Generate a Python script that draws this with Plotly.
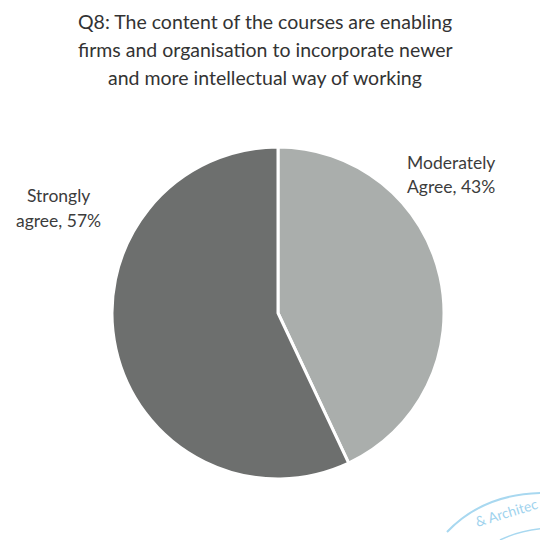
import plotly.graph_objects as go

labels = ["Moderately Agree", "Strongly agree"]
values = [43, 57]
label_lines = [["Moderately", "Agree, 43%"], ["Strongly", "agree, 57%"]]
colors = ["#aaaeac", "#6d6f6e"]

title_lines = [
    "Q8: The content of the courses are enabling",
    "firms and organisation to incorporate newer",
    "and more intellectual way of working",
]

# the page body adds an 8px offset, so the figure is sized to fit the window
OFF = 8
W, H = 548 - OFF, 540 - OFF


def px(x):
    return (x - OFF) / W


def py(y):
    return 1 - (y - OFF) / H


fig = go.Figure(go.Pie(
    labels=labels,
    values=values,
    sort=False,
    direction="clockwise",
    rotation=0,
    textinfo="none",
    hoverinfo="label+percent",
    marker=dict(colors=colors, line=dict(color="white", width=3)),
    domain=dict(x=[px(112), px(444)], y=[py(479), py(147)]),
    showlegend=False,
))

font_family = "Lato, Open Sans, sans-serif"
for i, line in enumerate(title_lines):
    fig.add_annotation(x=px(265), y=py(22 + 27.5 * i), xref="paper", yref="paper",
                       text=line, showarrow=False, align="center",
                       font=dict(family=font_family, size=19.5, color="#333333"),
                       xanchor="center", yanchor="middle")

label_pos = [(451, 162), (58, 196)]
for (lx, ly), lines in zip(label_pos, label_lines):
    for j, line in enumerate(lines):
        fig.add_annotation(x=px(lx), y=py(ly + 24 * j), xref="paper", yref="paper",
                           text=line, showarrow=False, align="center",
                           font=dict(family=font_family, size=17.5, color="#3c3c3c"),
                           xanchor="center", yanchor="middle")

# faint stamp in the corner of the scan
fig.add_annotation(x=px(506), y=py(512), xref="paper", yref="paper",
                   text="& Architec", showarrow=False, textangle=-17,
                   font=dict(family=font_family, size=14, color="#9fd3ee"),
                   xanchor="center", yanchor="middle")
fig.add_shape(type="path", xref="paper", yref="paper",
              path=f"M {px(447)} {py(532)} Q {px(485)} {py(492)} {px(548)} {py(493)}",
              line=dict(color="#a8d8f0", width=2))
fig.add_shape(type="path", xref="paper", yref="paper",
              path=f"M {px(500)} {py(540)} Q {px(520)} {py(530)} {px(548)} {py(528)}",
              line=dict(color="#a8d8f0", width=1.5))

fig.update_layout(
    width=W, height=H,
    margin=dict(l=0, r=0, t=0, b=0),
    paper_bgcolor="white",
    plot_bgcolor="white",
)
fig.write_html("out.html")
